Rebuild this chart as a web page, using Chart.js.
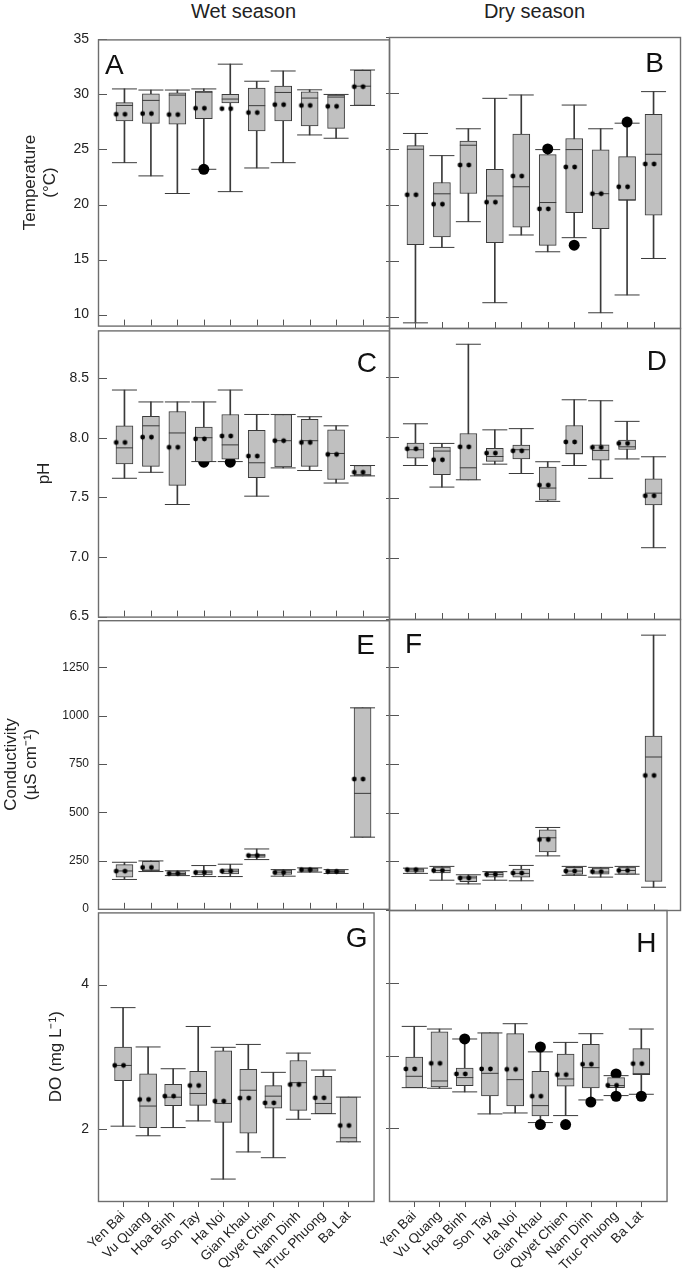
<!DOCTYPE html>
<html lang="en">
<head>
<meta charset="UTF-8">
<title>Water quality box plots</title>
<script src="https://cdn.jsdelivr.net/npm/chart.js@4.4.1/dist/chart.umd.min.js"></script>
<style>
  body { margin: 0; background: #fff; }
  #wrap { position: relative; width: 685px; height: 1279px; overflow: hidden; font-family: "Liberation Sans", Arial, sans-serif; }
  #wrap canvas { position: absolute; }
  .colTitle { position: absolute; top: 0px; width: 291px; text-align: center; font-size: 20px; line-height: 22px; color: #222; }
</style>
</head>
<body>
<div id="wrap">
  <div class="colTitle" style="left:98px">Wet season</div>
  <div class="colTitle" style="left:389px">Dry season</div>
</div>
<script>
// sites along the x axis
const sites = ['Yen Bai', 'Vu Quang', 'Hoa Binh', 'Son Tay', 'Ha Noi', 'Gian Khau', 'Quyet Chien', 'Nam Dinh', 'Truc Phuong', 'Ba Lat'];

// each row: [min, q1, median, q3, max, mean]
const tempWet = [
  [23.8, 27.6, 29.0, 29.25, 30.5, 28.2],
  [22.6, 27.37, 29.46, 30.06, 30.4, 28.26],
  [21.0, 27.3, 29.94, 30.15, 30.4, 28.17],
  [23.2, 27.8, 30.2, 30.3, 30.5, 28.74],
  [21.17, 29.22, 29.58, 30.0, 32.75, 28.71],
  [23.32, 26.68, 28.98, 30.57, 31.2, 28.35],
  [23.8, 27.6, 30.18, 30.75, 32.13, 29.07],
  [26.32, 27.13, 29.67, 30.24, 30.42, 29.0],
  [26.02, 26.92, 29.76, 29.94, 30.0, 28.92],
  [29.0, 29.0, 30.75, 32.2, 32.22, 30.7]
];
const tempDry = [
  [9.46, 16.44, 24.97, 25.3, 26.38, 20.9],
  [16.2, 17.13, 20.99, 22.0, 24.4, 20.06],
  [18.5, 21.02, 25.33, 25.69, 26.8, 23.56],
  [11.26, 16.62, 20.8, 23.17, 29.52, 20.24],
  [17.31, 18.0, 21.62, 26.32, 29.82, 22.57],
  [15.81, 16.38, 20.21, 24.49, 24.94, 19.64],
  [17.07, 19.31, 24.94, 25.93, 28.92, 23.38],
  [10.36, 17.87, 21.0, 24.91, 26.8, 21.0],
  [11.95, 20.39, 20.45, 24.31, 27.3, 21.62],
  [15.21, 19.07, 24.52, 28.08, 30.12, 23.65]
];
const phWet = [
  [7.66, 7.78, 7.915, 8.10, 8.40, 7.96],
  [7.71, 7.76, 8.10, 8.18, 8.30, 8.005],
  [7.44, 7.60, 8.04, 8.22, 8.30, 7.92],
  [7.80, 7.80, 8.00, 8.09, 8.30, 7.99],
  [7.80, 7.82, 7.94, 8.195, 8.40, 8.014],
  [7.51, 7.665, 7.79, 8.063, 8.195, 7.846],
  [7.747, 7.755, 7.975, 8.195, 8.195, 7.975],
  [7.725, 7.76, 7.975, 8.154, 8.176, 7.96],
  [7.62, 7.65, 7.868, 8.066, 8.10, 7.86],
  [7.68, 7.68, 7.69, 7.767, 7.767, 7.71]
];
const phDry = [
  [7.766, 7.827, 7.896, 7.95, 8.11, 7.904],
  [7.588, 7.69, 7.885, 7.918, 7.948, 7.813],
  [7.648, 7.648, 7.747, 8.03, 8.766, 7.92],
  [7.777, 7.80, 7.84, 7.907, 8.06, 7.868],
  [7.70, 7.82, 7.896, 7.934, 8.07, 7.887],
  [7.47, 7.48, 7.58, 7.753, 7.797, 7.604],
  [7.766, 7.86, 7.865, 8.096, 8.308, 7.96],
  [7.66, 7.81, 7.89, 7.937, 8.30, 7.915],
  [7.82, 7.898, 7.92, 7.975, 8.13, 7.948],
  [7.088, 7.44, 7.538, 7.657, 7.838, 7.516]
];
const condWet = [
  [152, 164, 196, 229, 241, 195],
  [193, 195, 200, 246, 248, 214],
  [172, 176, 183, 193, 197, 183],
  [167, 176, 190, 198, 224, 188],
  [167, 181, 195, 207, 231, 195],
  [255, 266, 275, 284, 310, 276],
  [169, 178, 190, 200, 203, 188],
  [190, 193, 201, 209, 212, 202],
  [183, 186, 193, 200, 203, 193],
  [371, 371, 598, 1041, 1041, 672]
];
const condDry = [
  [188, 194, 206, 213, 215, 207],
  [153, 190, 203, 221, 224, 203],
  [134, 145, 165, 176, 181, 164],
  [153, 169, 183, 193, 197, 183],
  [150, 169, 188, 210, 229, 190],
  [278, 298, 371, 412, 424, 362],
  [178, 183, 200, 219, 224, 200],
  [169, 184, 195, 216, 219, 197],
  [184, 184, 203, 221, 224, 203],
  [117, 147, 786, 893, 1412, 691]
];
const doWet = [
  [2.037, 2.668, 2.879, 3.135, 3.68, 2.879],
  [1.904, 2.018, 2.316, 2.764, 3.135, 2.407],
  [2.018, 2.32, 2.439, 2.618, 2.833, 2.453],
  [2.11, 2.325, 2.49, 2.796, 3.419, 2.6],
  [1.304, 2.09, 2.352, 3.08, 3.13, 2.384],
  [1.68, 1.94, 2.535, 2.824, 3.17, 2.426],
  [1.60, 2.288, 2.453, 2.6, 2.783, 2.36],
  [2.133, 2.256, 2.64, 2.947, 3.05, 2.613],
  [2.21, 2.21, 2.352, 2.728, 2.815, 2.43],
  [1.82, 1.82, 1.876, 2.44, 2.44, 2.046]
];
const doDry = [
  [2.558, 2.558, 2.714, 2.979, 3.40, 2.815],
  [2.55, 2.568, 2.65, 3.327, 3.364, 2.892],
  [2.50, 2.586, 2.696, 2.828, 3.227, 2.746],
  [2.197, 2.444, 2.755, 3.31, 3.31, 2.815],
  [2.21, 2.307, 2.668, 3.30, 3.437, 2.81],
  [2.078, 2.17, 2.311, 2.783, 3.05, 2.44],
  [2.174, 2.577, 2.677, 3.02, 3.18, 2.737],
  [2.389, 2.554, 2.833, 3.153, 3.30, 2.879],
  [2.449, 2.558, 2.586, 2.696, 2.723, 2.59],
  [2.467, 2.737, 2.75, 3.094, 3.364, 2.888]
];

// outliers: [site number, value]
const tempWetOut = [[4, 23.2]];
const tempDryOut = [[6, 25.0], [7, 16.4], [9, 27.4]];
const phWetOut = [[4, 7.795], [5, 7.795]];
const phDryOut = [];
const condWetOut = [];
const condDryOut = [];
const doWetOut = [];
const doDryOut = [[3, 3.227], [6, 3.117], [6, 2.05], [7, 2.05], [8, 2.36], [9, 2.746], [9, 2.44], [10, 2.44]];

// y tick labels
const tempTicks = [10, 15, 20, 25, 30, 35];
const phTicks = [6.5, 7.0, 7.5, 8.0, 8.5];
const condTicks = [0, 250, 500, 750, 1000, 1250];
const doTicksWet = [2, 4];
const doTicksDry = [2, 3, 4];

Chart.defaults.font.family = '"Liberation Sans", Arial, Helvetica, sans-serif';
Chart.defaults.color = '#222';

const LINE = '#3a3a3a';

// two dots of the dotted mean line
const meanImg = (() => {
  const c = document.createElement('canvas');
  c.width = 24; c.height = 8;
  const g = c.getContext('2d');
  g.fillStyle = '#000';
  [12 - 8.3, 12 + 0.5].forEach(cx => {
    g.beginPath(); g.arc(cx, 4, 2.4, 0, Math.PI * 2); g.fill();
  });
  return c;
})();

function boxDatasets(rows, outs) {
  const pad = v => [null, ...v, null];
  const pts = (vals, style, r) => ({
    type: 'line', data: pad(vals), showLine: false,
    pointStyle: style, pointRadius: r, pointBorderColor: LINE, pointBackgroundColor: LINE, pointBorderWidth: 1
  });
  return [
    { type: 'bar', data: pad(rows.map(r => [r[0], r[4]])), grouped: false, barThickness: 1, backgroundColor: LINE, order: 7 },
    Object.assign(pts(rows.map(r => r[0]), 'line', 12.5), { order: 6 }),
    Object.assign(pts(rows.map(r => r[4]), 'line', 12.5), { order: 6 }),
    { type: 'line', data: outs.map(o => ({ x: sites[o[0] - 1], y: o[1] })), showLine: false,
      pointRadius: 5.5, pointBackgroundColor: '#000', pointBorderColor: '#000', pointBorderWidth: 0, order: 5 },
    { type: 'bar', data: pad(rows.map(r => [r[1], r[3]])), grouped: false, barThickness: 17,
      backgroundColor: '#c0c0c0', borderColor: LINE, borderWidth: 1, borderSkipped: false, order: 4 },
    Object.assign(pts(rows.map(r => r[2]), 'line', 8.5), { order: 3 }),
    { type: 'line', data: pad(rows.map(r => r[5])), showLine: false, pointStyle: meanImg, pointRadius: 3, order: 1 }
  ];
}

// frame, inward ticks and panel letter
const panelDeco = {
  id: 'panelDeco',
  afterDraw(chart, args, o) {
    const { ctx, chartArea: a, scales: { x, y } } = chart;
    ctx.save();
    ctx.strokeStyle = '#555';
    ctx.lineWidth = 1;
    ctx.beginPath();
    o.yTicks.forEach(v => {
      const py = Math.round(y.getPixelForValue(v)) + 0.5;
      ctx.moveTo(a.left + o.yFrom, py); ctx.lineTo(a.left + o.yTo, py);
    });
    for (let i = 1; i <= sites.length; i++) {
      const px = Math.round(x.getPixelForValue(i)) + 0.5;
      ctx.moveTo(px, a.bottom); ctx.lineTo(px, a.bottom + o.xTick);
    }
    ctx.stroke();
    ctx.strokeStyle = '#6e6e6e';
    ctx.lineWidth = 1.4;
    ctx.strokeRect(a.left + 0.5, a.top + 0.5, a.right - a.left, a.bottom - a.top);
    ctx.font = '28px "Liberation Sans", Arial, sans-serif';
    ctx.fillStyle = '#111';
    ctx.textAlign = o.align;
    ctx.textBaseline = 'alphabetic';
    ctx.fillText(o.letter, o.align === 'left' ? a.left + o.dx : a.right - o.dx, a.top + o.dy);
    ctx.restore();
  }
};

const colX = [98, 389];
const rowY = [37, 328, 619, 910];
const panelW = 291, panelH = 291;

const panels = [
  { letter: 'A', rows: tempWet, outs: tempWetOut, col: 0, row: 0, min: 9, max: 35, ticks: tempTicks, title: ['Temperature', '(°C)'], tPad: 20.5, tSize: 14, align: 'left', dx: 7, dy: 35 },
  { letter: 'B', rows: tempDry, outs: tempDryOut, col: 1, row: 0, min: 9, max: 35, ticks: tempTicks, align: 'right', dx: 16, dy: 35 },
  { letter: 'C', rows: phWet, outs: phWetOut, col: 0, row: 1, min: 6.5, max: 8.9, ticks: phTicks, title: 'pH', tPad: 34, tSize: 14, fmt: v => v.toFixed(1), align: 'right', dx: 12, dy: 42 },
  { letter: 'D', rows: phDry, outs: phDryOut, col: 1, row: 1, min: 6.5, max: 8.9, ticks: phTicks, align: 'right', dx: 13, dy: 42 },
  { letter: 'E', rows: condWet, outs: condWetOut, col: 0, row: 2, min: 0, max: 1495, ticks: condTicks, title: ['Conductivity', '(µS cm⁻¹)'], tPad: 1, tSize: 12, align: 'right', dx: 14, dy: 34 },
  { letter: 'F', rows: condDry, outs: condDryOut, col: 1, row: 2, min: 0, max: 1495, ticks: condTicks, align: 'left', dx: 16, dy: 34 },
  { letter: 'G', rows: doWet, outs: doWetOut, col: 0, row: 3, min: 1, max: 5, ticks: doTicksWet, title: 'DO (mg L⁻¹)', tPad: 46, tSize: 14, align: 'right', dx: 6, dy: 35 },
  { letter: 'H', rows: doDry, outs: doDryOut, col: 1, row: 3, min: 1, max: 5, ticks: doTicksDry, align: 'right', dx: 10, dy: 42 }
];

const wrap = document.getElementById('wrap');

panels.forEach(p => {
  const isLeft = p.col === 0;
  const isBottom = p.row === 3;
  const cx = isLeft ? 0 : 380;
  const cw = isLeft ? 392 : 305;
  const cy = rowY[p.row] - 15;
  const ch = isBottom ? 1279 - cy : panelH + 30;
  const c = document.createElement('canvas');
  c.width = cw; c.height = ch;
  c.style.left = cx + 'px'; c.style.top = cy + 'px';
  c.style.width = cw + 'px'; c.style.height = ch + 'px';
  wrap.appendChild(c);

  new Chart(c, {
    type: 'bar',
    data: { labels: ['', ...sites, ''], datasets: boxDatasets(p.rows, p.outs) },
    options: {
      responsive: false,
      animation: false,
      events: [],
      layout: {
        autoPadding: false,
        padding: {
          left: isLeft ? 0 : colX[1] - cx,
          right: cw - (colX[p.col] + panelW - cx),
          top: 15,
          bottom: isBottom ? 0 : 15
        }
      },
      plugins: {
        legend: { display: false },
        tooltip: { enabled: false },
        panelDeco: {
          letter: p.letter, align: p.align, dx: p.dx, dy: p.dy, yTicks: p.ticks,
          yFrom: isLeft ? 0 : -3, yTo: isLeft ? 9 : 10, xTick: isBottom ? 6 : -6
        }
      },
      scales: {
        x: {
          type: 'category',
          offset: false,
          display: isBottom,
          grid: { display: false, drawTicks: false },
          border: { display: false },
          ticks: { display: isBottom, autoSkip: false, minRotation: 45, maxRotation: 45, padding: 7, font: { size: 13.5 }, color: '#222' },
          afterFit: s => {
            s.height = isBottom ? ch - 15 - panelH : 0;
          }
        },
        y: {
          min: p.min,
          max: p.max,
          display: isLeft,
          grid: { display: false, drawTicks: false },
          border: { display: false },
          afterBuildTicks: s => { s.ticks = p.ticks.map(v => ({ value: v })); },
          afterFit: s => { s.width = isLeft ? 98 : 0; },
          ticks: { padding: 9, font: { size: p.tSize || 14 }, color: '#222', callback: p.fmt || (v => v) },
          title: {
            display: isLeft,
            text: p.title || '',
            font: { size: 17, lineHeight: 1.18 },
            color: '#222',
            padding: { top: p.tPad || 0, bottom: 0 }
          }
        }
      }
    },
    plugins: [panelDeco]
  });
});
</script>
</body>
</html>
